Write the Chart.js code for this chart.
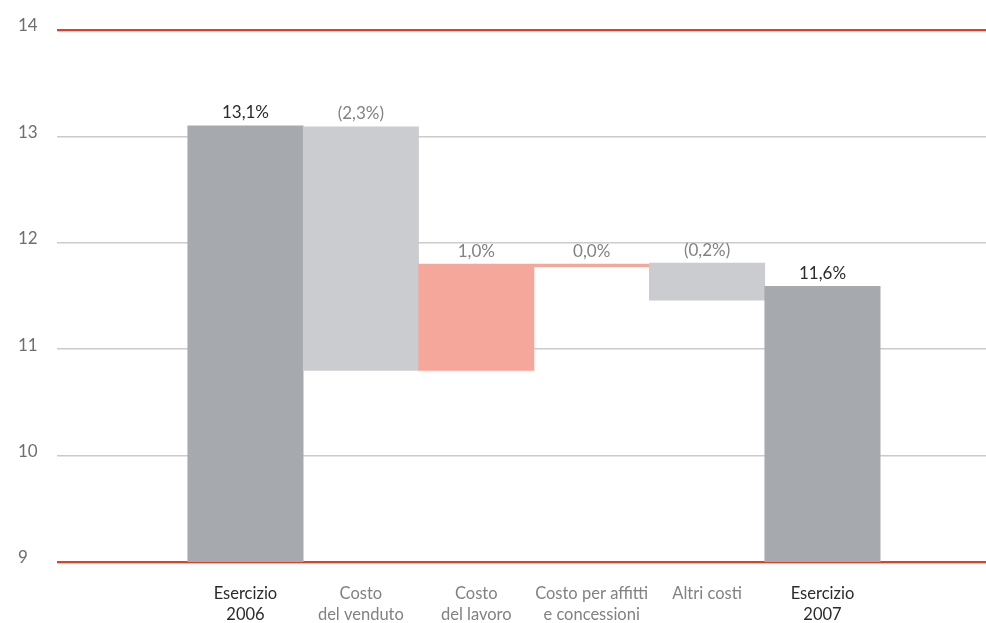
<!DOCTYPE html>
<html><head><meta charset="utf-8">
<script src="https://cdn.jsdelivr.net/npm/chart.js@4.4.1/dist/chart.umd.min.js"></script>
<style>html,body{margin:0;padding:0;background:#fff}#wrap{width:986px;height:623px;position:relative}</style>
</head><body><div id="wrap"><canvas id="c"></canvas></div>
<script>
// ---- data ----
const categories = [["Esercizio","2006"],["Costo","del venduto"],["Costo","del lavoro"],["Costo per affitti","e concessioni"],["Altri costi"],["Esercizio","2007"]];
const barStart = [9, 10.8, 10.8, 11.775, 11.46, 9];
const barEnd = [13.1, 13.09, 11.8, 11.8, 11.81, 11.59];
const valueLabels = ["13,1%","(2,3%)","1,0%","0,0%","(0,2%)","11,6%"];
const barKind = ["total","decrease","increase","increase","decrease","total"];
const yTicks = [9, 10, 11, 12, 13, 14];

// ---- styles ----
const kindColor = {total:"#a6a9ad", decrease:"#cbccd0", increase:"#f5a79b"};
const FONT = "Lato, 'Open Sans', sans-serif";

const valueLabelPlugin = {
  id: "valueLabels",
  afterDatasetsDraw(chart) {
    const ctx = chart.ctx;
    const meta = chart.getDatasetMeta(0);
    ctx.save();
    ctx.font = "17px " + FONT;
    ctx.textAlign = "center";
    ctx.textBaseline = "middle";
    meta.data.forEach((el, i) => {
      const top = Math.min(el.y, el.base);
      ctx.fillStyle = barKind[i] === "total" ? "#2b2b2b" : "#808285";
      ctx.fillText(valueLabels[i], el.x, top - 13);
    });
    ctx.restore();
  }
};

new Chart(document.getElementById("c"), {
  type: "bar",
  data: {
    datasets: [{
      data: categories.map((c, i) => ({x: i, y: [barStart[i], barEnd[i]]})),
      backgroundColor: barKind.map(k => kindColor[k]),
      borderWidth: 0,
      barPercentage: 1,
      categoryPercentage: 1
    }]
  },
  options: {
    responsive: true,
    maintainAspectRatio: false,
    animation: false,
    layout: {padding: {top: 30, left: 18, right: 0, bottom: 0}},
    plugins: {legend: {display: false}, tooltip: {enabled: false}},
    scales: {
      x: {
        type: "linear",
        offset: false,
        min: -1.633,
        max: 6.417,
        grid: {display: false, offset: false},
        border: {display: false},
        afterBuildTicks: axis => { axis.ticks = categories.map((c, i) => ({value: i})); },
        afterFit: axis => { axis.height = 61; },
        ticks: {
          autoSkip: false,
          maxRotation: 0,
          padding: 14,
          font: {family: FONT, size: 16.5, lineHeight: 1.22},
          color: ctx => barKind[ctx.index] === "total" ? "#2b2b2b" : "#808285",
          callback: (v, i) => categories[i]
        }
      },
      y: {
        min: 9,
        max: 14,
        afterBuildTicks: axis => { axis.ticks = yTicks.map(v => ({value: v})); },
        afterFit: axis => { axis.width = 39; },
        border: {display: false},
        grid: {
          drawTicks: false,
          color: ctx => (ctx.tick && (ctx.tick.value === 9 || ctx.tick.value === 14)) ? "#e63c22" : "#cbcbcb",
          lineWidth: ctx => (ctx.tick && (ctx.tick.value === 9 || ctx.tick.value === 14)) ? 2.2 : 1.5
        },
        ticks: {
          crossAlign: "far",
          padding: 0,
          labelOffset: -4,
          color: "#6d6e71",
          font: {family: FONT, size: 17}
        }
      }
    }
  },
  plugins: [valueLabelPlugin]
});
</script>
</body></html>
